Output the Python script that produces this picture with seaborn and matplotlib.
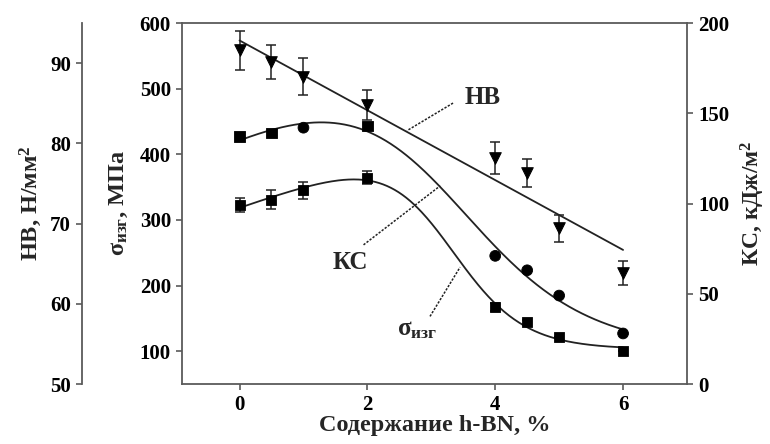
import numpy as np
import pandas as pd
import matplotlib
matplotlib.use("Agg")
import matplotlib.pyplot as plt
import seaborn as sns

# ---------------- data ----------------
content = [0, 0.5, 1, 2, 4, 4.5, 5, 6]          # h-BN content, %
hb = [91.6, 90.1, 88.3, 84.8, 78.2, 76.3, 69.4, 63.8]   # HB, N/mm2
hb_err = [2.4, 2.1, 2.3, 1.9, 2.0, 1.7, 1.7, 1.5]
sigma = [323, 331, 345, 364, 167, 144, 121, 100]        # sigma_izg, MPa
sigma_err = [11, 14, 13, 10, 6, 4, 0, 0]
kc = [137, 139, 142, 143, 71, 63, 49, 28]               # KC, kJ/m2
kc_marker = ["s", "s", "o", "s", "o", "o", "o", "o"]

x_ticks = [0, 2, 4, 6]
sigma_ticks = [100, 200, 300, 400, 500, 600]
hb_ticks = [50, 60, 70, 80, 90]
kc_ticks = [0, 50, 100, 150, 200]

df = pd.DataFrame({"x": content, "hb": hb, "hb_err": hb_err,
                   "sigma": sigma, "sigma_err": sigma_err, "kc": kc,
                   "kc_marker": kc_marker})


def smooth_fit(x, y):
    """least-squares fit of (p + q*x) * logistic(x; x0, w) + r"""
    x = np.asarray(x, float)
    y = np.asarray(y, float)
    best = None
    for x0 in np.linspace(2.0, 5.0, 121):
        for w in np.linspace(0.2, 1.6, 141):
            L = 1.0 / (1.0 + np.exp((x - x0) / w))
            A = np.column_stack([L, x * L, np.ones_like(x)])
            coef = np.linalg.lstsq(A, y, rcond=None)[0]
            err = np.sum((A @ coef - y) ** 2)
            if best is None or err < best[0]:
                best = (err, x0, w, coef)
    _, x0, w, coef = best

    def f(t):
        t = np.asarray(t, float)
        L = 1.0 / (1.0 + np.exp((t - x0) / w))
        return coef[0] * L + coef[1] * t * L + coef[2]
    return f


xs = np.linspace(min(content), max(content), 300)
sig_f = smooth_fit(content, sigma)
kc_f = smooth_fit(content, kc)

# ---------------- style ----------------
sns.set_style("ticks")
plt.rcParams["font.family"] = ["Liberation Serif", "DejaVu Serif"]
plt.rcParams["font.weight"] = "bold"
plt.rcParams["mathtext.fontset"] = "custom"
plt.rcParams["mathtext.rm"] = "Liberation Serif:bold"
plt.rcParams["mathtext.it"] = "Liberation Serif:bold"
plt.rcParams["mathtext.bf"] = "Liberation Serif:bold"
plt.rcParams["mathtext.default"] = "rm"

spine_c = "#5a5a5a"
line_c = "#222222"
tick_fs = 15
label_fs = 17.5

fig = plt.figure(figsize=(7.7, 4.44), dpi=100)
ax = fig.add_axes([182 / 770, 1 - 384 / 444, (687 - 182) / 770, (384 - 23) / 444])
ax_kc = ax.twinx()
ax_hb = ax.twinx()

# ---------------- sigma (main axis) ----------------
sns.lineplot(x=xs, y=sig_f(xs), ax=ax, color=line_c, lw=1.3)
ax.errorbar(df["x"], df["sigma"], yerr=df["sigma_err"], fmt="none",
            ecolor=line_c, elinewidth=1.1, capsize=3.6, capthick=1.1)
sns.scatterplot(data=df, x="x", y="sigma", marker="s", s=55, color="black",
                edgecolor="black", ax=ax, zorder=5)

# ---------------- KC (right axis) ----------------
sns.lineplot(x=xs, y=kc_f(xs), ax=ax_kc, color=line_c, lw=1.3)
sns.scatterplot(data=df, x="x", y="kc", style="kc_marker",
                markers={"s": "s", "o": "o"}, s=60, color="black",
                edgecolor="black", ax=ax_kc, zorder=5, legend=False)

# ---------------- HB (outer left axis) ----------------
sns.regplot(data=df, x="x", y="hb", order=1, ci=None, scatter=False, ax=ax_hb,
            line_kws=dict(color=line_c, lw=1.3))
ax_hb.errorbar(df["x"], df["hb"], yerr=df["hb_err"], fmt="none",
               ecolor=line_c, elinewidth=1.1, capsize=3.6, capthick=1.1)
sns.scatterplot(data=df, x="x", y="hb", marker="v", s=70, color="black",
                edgecolor="black", ax=ax_hb, zorder=5)

# ---------------- axes setup ----------------
ax.set_xlim(-0.9, 7.0)
ax.set_ylim(50, 600)
ax_kc.set_ylim(0, 200)
ax_hb.set_ylim(50, 95)

ax.set_xticks(x_ticks)
ax.set_yticks(sigma_ticks)
ax_kc.set_yticks(kc_ticks)
ax_hb.set_yticks(hb_ticks)

ax_hb.yaxis.set_ticks_position("left")
ax_hb.yaxis.set_label_position("left")
ax_hb.spines["left"].set_position(("axes", -100 / 505))
for s in ["top", "right", "bottom"]:
    ax_hb.spines[s].set_visible(False)
for s in ["top", "left", "bottom"]:
    ax_kc.spines[s].set_visible(False)
ax.spines["right"].set_visible(False)

for a in (ax, ax_kc, ax_hb):
    for sp in a.spines.values():
        sp.set_color(spine_c)
        sp.set_linewidth(1.3)
    a.tick_params(axis="both", direction="out", length=4, width=1.2,
                  color=spine_c, labelsize=tick_fs, labelcolor="black", pad=4)
    for lab in a.get_xticklabels() + a.get_yticklabels():
        lab.set_fontweight("bold")

ax.set_xlabel("Содержание h-BN, %", fontsize=label_fs, fontweight="bold", labelpad=0)
ax.set_ylabel(r"$\sigma_{\mathrm{изг}}$, МПа", fontsize=label_fs, fontweight="bold", labelpad=7)
ax_kc.set_ylabel(r"КС, кДж/м$^2$", fontsize=label_fs - 0.5, fontweight="bold", labelpad=7)
ax_hb.set_ylabel(r"HB, Н/мм$^2$", fontsize=label_fs, fontweight="bold", labelpad=4)

# ---------------- annotations (sigma-axis data coords) ----------------
ann_fs = 18
ax.text(3.8, 487, "HB", fontsize=ann_fs, fontweight="bold", ha="center", va="center")
ax.plot([3.34, 2.62], [478, 436], ls=(0, (1.5, 1)), color=line_c, lw=1.1)

ax.text(1.73, 235, "КС", fontsize=ann_fs, fontweight="bold", ha="center", va="center")
ax.plot([1.94, 3.14], [262, 352], ls=(0, (1.5, 1)), color=line_c, lw=1.1)

ax.text(2.78, 133, r"$\sigma_{\mathrm{изг}}$", fontsize=ann_fs, ha="center", va="center")
ax.plot([2.98, 3.45], [153, 228], ls=(0, (1.5, 1)), color=line_c, lw=1.1)

ax.set_zorder(3); ax_kc.set_zorder(2); ax_hb.set_zorder(1)
ax.patch.set_visible(False)

fig.savefig("out.png", dpi=100)
